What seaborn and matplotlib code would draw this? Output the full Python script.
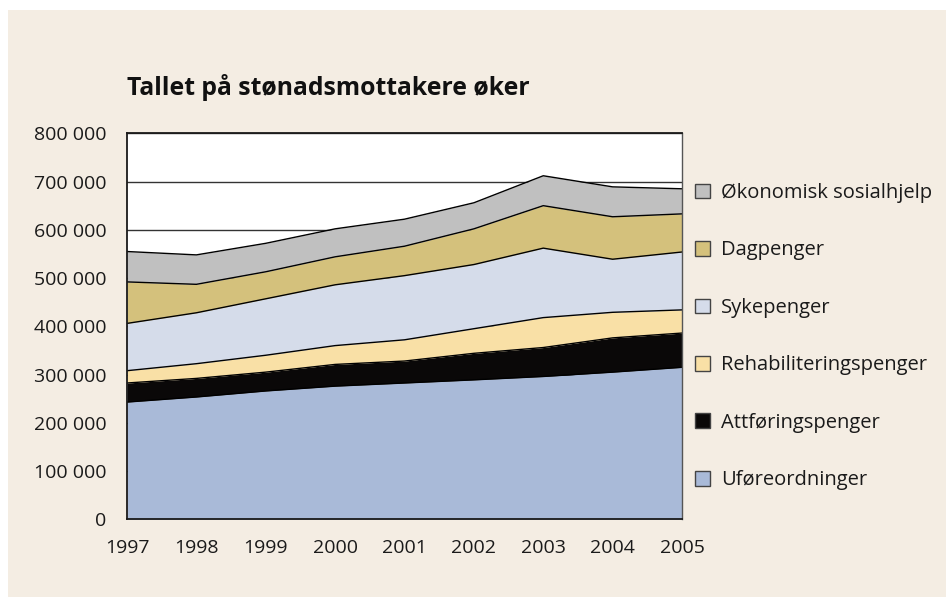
import pandas as pd
import matplotlib.pyplot as plt
import seaborn as sns
from matplotlib.patches import Patch, Rectangle
from matplotlib.ticker import FuncFormatter, MultipleLocator

# Data (persons per year)
years = [1997, 1998, 1999, 2000, 2001, 2002, 2003, 2004, 2005]
uforeordninger = [243000, 253500, 266000, 276000, 282500, 289000, 296000, 305000, 315000]
attforingspenger = [39500, 38500, 39000, 45000, 45500, 55000, 60000, 71000, 71000]
rehabiliteringspenger = [25500, 30500, 35000, 39000, 44000, 51000, 62000, 53000, 48000]
sykepenger = [98000, 105500, 117000, 126000, 133000, 133000, 144000, 110000, 120000]
dagpenger = [86000, 59000, 56000, 58000, 61000, 74000, 88000, 88000, 79000]
sosialhjelp = [63000, 61000, 59000, 58000, 56000, 54000, 62000, 62000, 52000]

labels = ["Uføreordninger", "Attføringspenger", "Rehabiliteringspenger",
          "Sykepenger", "Dagpenger", "Økonomisk sosialhjelp"]
colors = ["#a9bad8", "#0a0808", "#f9e0a6", "#d5dcea", "#d4c17c", "#c0c0c0"]
series = [uforeordninger, attforingspenger, rehabiliteringspenger,
          sykepenger, dagpenger, sosialhjelp]

df = pd.DataFrame(dict(zip(labels, series)), index=years)
cum = df.cumsum(axis=1).reset_index(names="År").melt(
    id_vars="År", var_name="Ordning", value_name="Sum")

sns.set_style("white")
plt.rcParams["font.family"] = ["Open Sans", "DejaVu Sans"]

bg = "#f4ede3"
fig = plt.figure(figsize=(9.46, 5.97), dpi=100, facecolor="white")
fig.patches.append(Rectangle((8 / 946, 0), 1, 1 - 10 / 597, transform=fig.transFigure,
                             facecolor=bg, edgecolor="none", zorder=-10))
ax = fig.add_axes([127 / 946, 1 - 519.3 / 597, 555 / 946, 386 / 597])
ax.set_facecolor("white")

# horizontal grid below the areas
ax.yaxis.set_major_locator(MultipleLocator(100000))
ax.grid(axis="y", color="#333333", linewidth=1.0, zorder=0)
ax.set_axisbelow(True)

ax.stackplot(years, *[df[c] for c in labels], colors=colors, linewidth=0, zorder=2)
sns.lineplot(data=cum, x="År", y="Sum", units="Ordning", estimator=None,
             color="black", linewidth=1.0, legend=False, ax=ax, zorder=3)

ax.set_xlim(1997, 2005)
ax.set_ylim(0, 800000)
ax.set_xticks(years)
ax.yaxis.set_major_formatter(FuncFormatter(lambda v, p: f"{int(v):,}".replace(",", " ")))
ax.set_xlabel("")
ax.set_ylabel("")
ax.tick_params(axis="both", direction="out", length=6, width=1.2, color="#222222",
               labelsize=14, labelcolor="#1a1a1a")
ax.tick_params(axis="x", pad=8)
ax.tick_params(axis="y", pad=9)
for side in ["left", "bottom", "top"]:
    ax.spines[side].set_color("#1a1a1a")
    ax.spines[side].set_linewidth(1.3)
ax.spines["right"].set_color("#555555")
ax.spines["right"].set_linewidth(1.0)
for s in ax.spines.values():
    s.set_zorder(5)

fig.text(127 / 946, 1 - 95 / 597, "Tallet på stønadsmottakere øker",
         fontsize=17.8, fontweight="bold", color="#111111", va="baseline", ha="left")

handles = [Patch(facecolor=c, edgecolor="#444444", linewidth=1.0, label=l)
           for c, l in zip(colors, labels)][::-1]
fig.legend(handles=handles, loc="upper left", bbox_to_anchor=(695 / 946, 1 - 183 / 597),
           frameon=False, fontsize=14.5, handlelength=0.75, handleheight=0.75,
           handletextpad=0.55, labelspacing=1.86, borderaxespad=0, borderpad=0,
           labelcolor="#1a1a1a")

fig.savefig("out.png", dpi=100, facecolor=fig.get_facecolor())
